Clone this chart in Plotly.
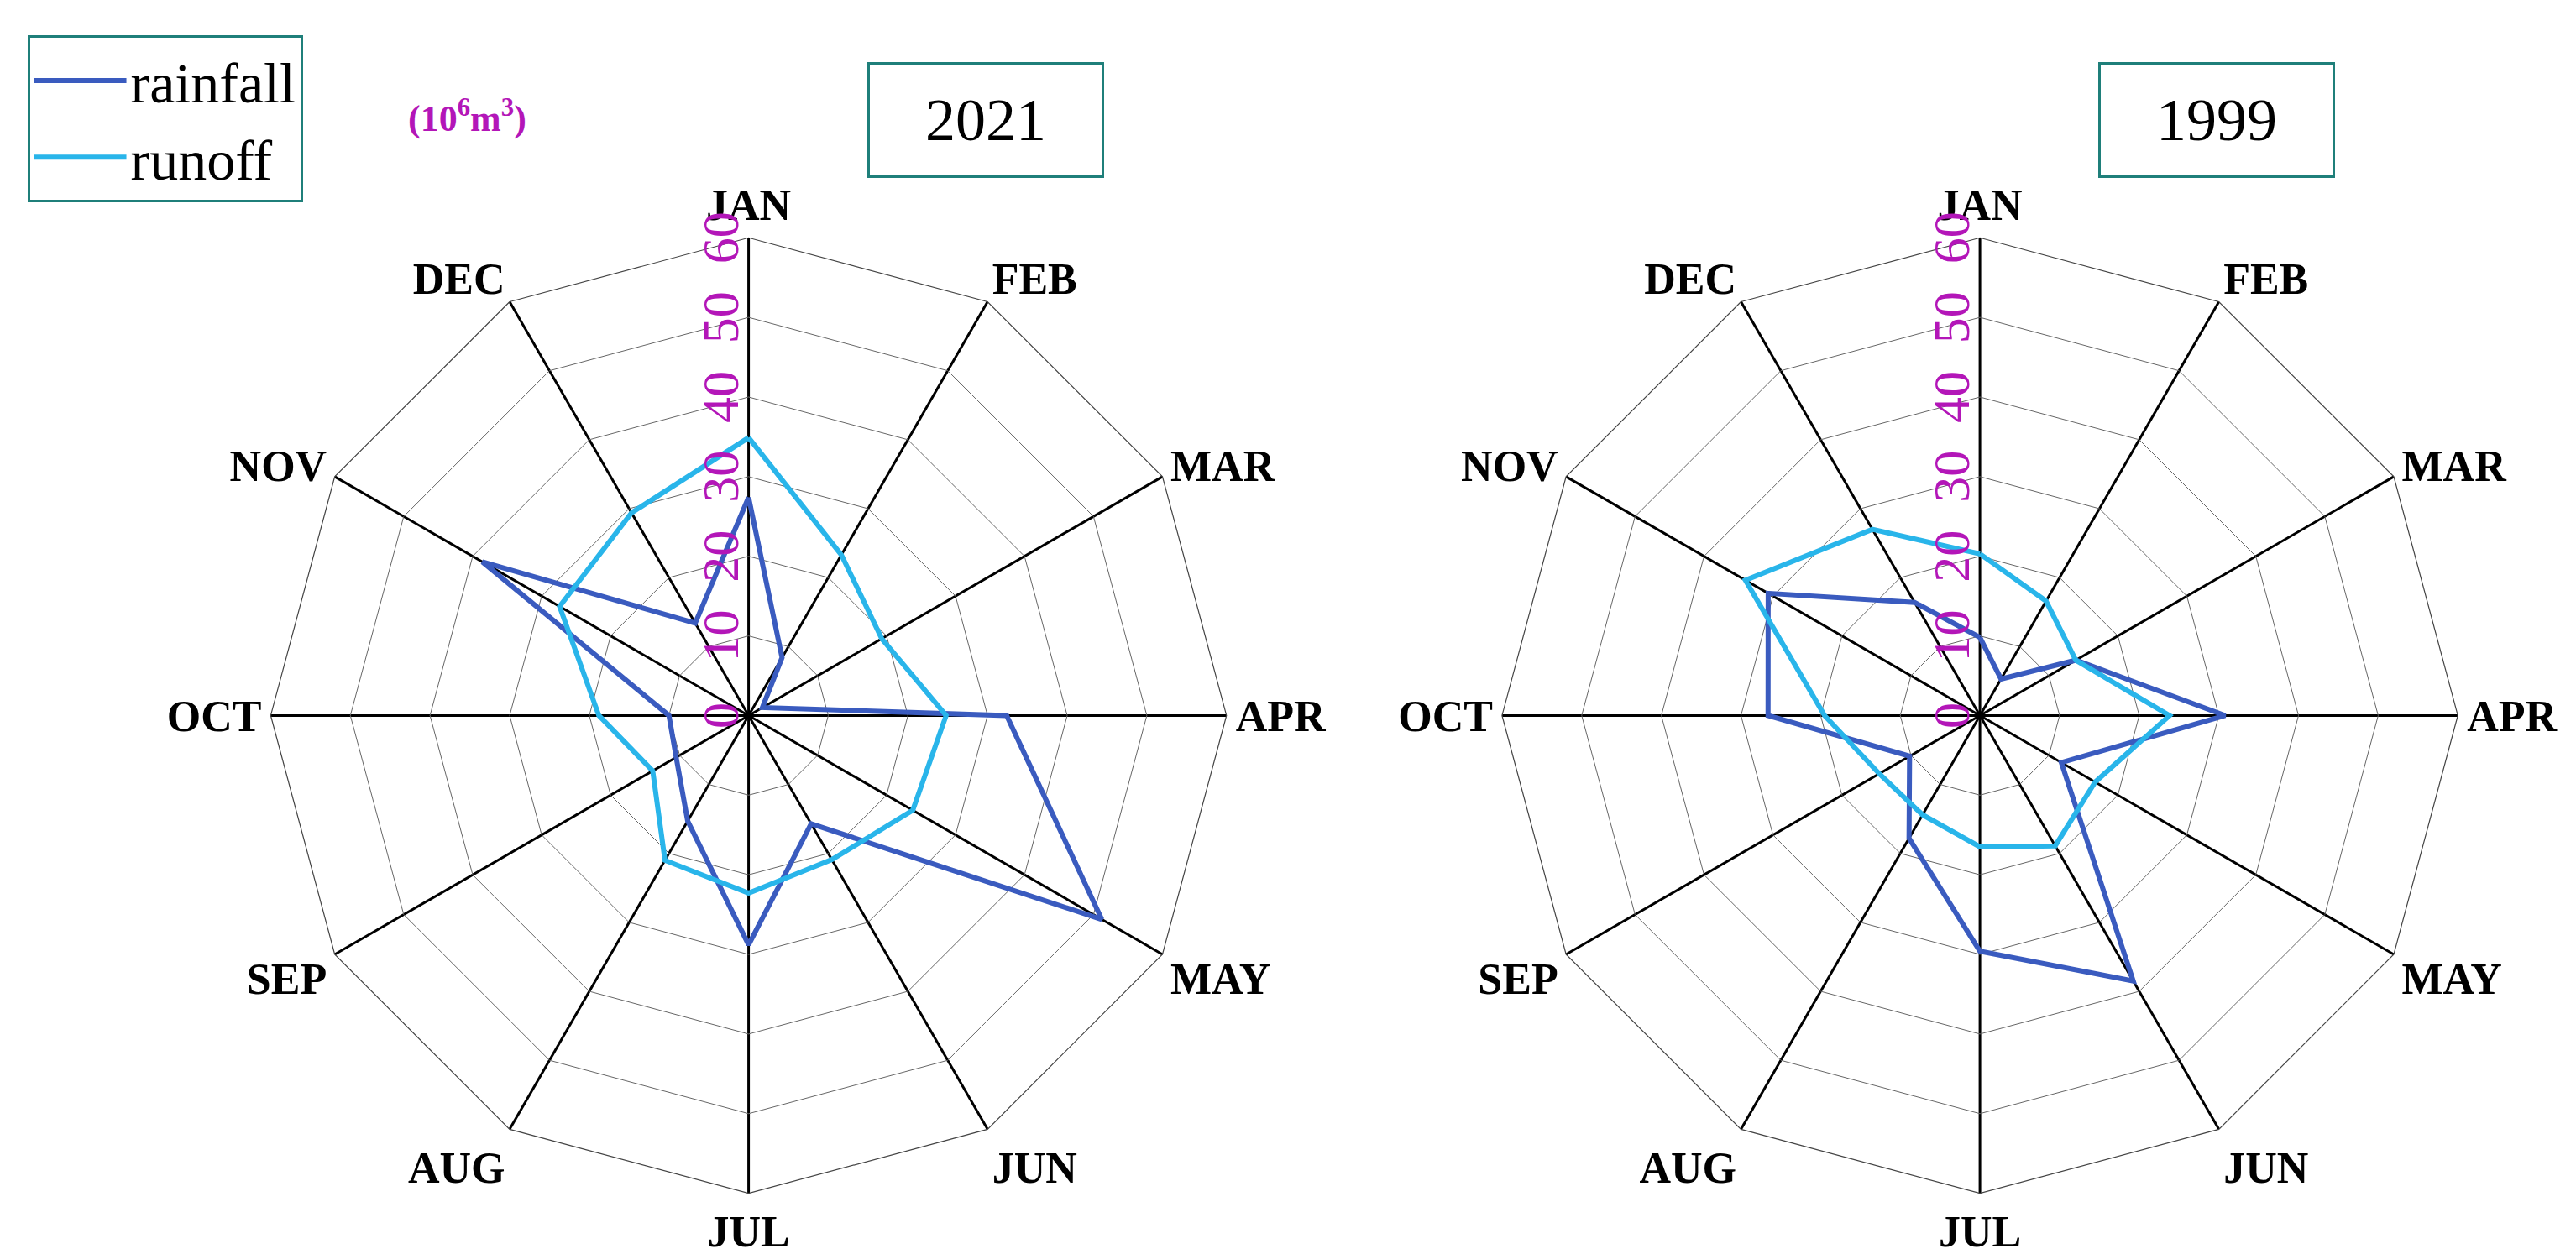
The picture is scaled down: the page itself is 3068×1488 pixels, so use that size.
import plotly.graph_objects as go

months = ["JAN","FEB","MAR","APR","MAY","JUN","JUL","AUG","SEP","OCT","NOV","DEC"]
rain_2021 = [27.4, 8.4, 2, 32.4, 51.2, 15.7, 28.8, 15.3, 10.5, 10, 38.6, 13.4]
runoff_2021 = [34.9, 23.3, 19.3, 24.8, 23.8, 20.9, 22.3, 21, 13.9, 18.8, 27.4, 29.4]
rain_1999 = [9.8, 5.3, 13.9, 30.8, 11.8, 38.5, 29.6, 17.8, 10.2, 26.6, 30.7, 16.4]
runoff_1999 = [20.3, 16.6, 13.9, 23.8, 16.7, 18.9, 16.5, 14.4, 14.6, 19.5, 34, 27]
radial_ticks = [0, 10, 20, 30, 40, 50, 60]

RAIN = "#3a5bbf"
RUN = "#29b5ea"
TEAL = "#1f7f7a"

fig = go.Figure()
def close(v): return v + v[:1]
th = close(months)
for sub, rain, run, show in [("polar", rain_2021, runoff_2021, True), ("polar2", rain_1999, runoff_1999, False)]:
    fig.add_trace(go.Scatterpolar(r=close(rain), theta=th, mode="lines", line=dict(color=RAIN, width=6),
                                  name="rainfall", subplot=sub, showlegend=show))
    fig.add_trace(go.Scatterpolar(r=close(run), theta=th, mode="lines", line=dict(color=RUN, width=6),
                                  name="runoff", subplot=sub, showlegend=show))

def polar(dom_x):
    return dict(
        domain=dict(x=dom_x, y=[0.05, 0.815]),
        gridshape="linear", bgcolor="white",
        angularaxis=dict(direction="clockwise", rotation=90, categoryarray=months, categoryorder="array",
                         showgrid=True, gridcolor="black", gridwidth=2.5, linecolor="#444", linewidth=1.2,
                         ticks="", tickfont=dict(family="Liberation Serif", size=52, color="black", weight="bold")),
        radialaxis=dict(range=[0, 60], tickvals=radial_ticks, angle=90, side="counterclockwise", tickangle=0,
                        showline=False, gridcolor="#666", gridwidth=1.2, ticks="",
                        tickfont=dict(family="Liberation Serif", size=62, color="#b316b8")),
    )

fig.update_layout(
    width=3068, height=1488, paper_bgcolor="white", margin=dict(l=0, r=0, t=0, b=0),
    polar=polar([0.10, 0.476]), polar2=polar([0.578, 0.954]),
    legend=dict(x=0.008, y=0.977, xanchor="left", yanchor="top", bordercolor=TEAL, borderwidth=3,
                font=dict(family="Liberation Serif", size=68, color="black"), itemwidth=110,
                bgcolor="white", entrywidth=560),
    annotations=[
        dict(text="(10<sup>6</sup>m<sup>3</sup>)", x=548/3068, y=1-130/1488, xref="paper", yref="paper",
             xanchor="center", yanchor="middle", showarrow=False,
             font=dict(family="Liberation Serif", size=44, color="#b316b8", weight="bold")),
        dict(text="2021", x=1166/3068, y=1-135/1488, xref="paper", yref="paper", showarrow=False,
             xanchor="center", yanchor="middle",
             font=dict(family="Liberation Serif", size=72, color="black"), bordercolor=TEAL, borderwidth=3,
             borderpad=18, width=240, height=96),
        dict(text="1999", x=(1534+1098)/3068, y=1-135/1488, xref="paper", yref="paper", showarrow=False,
             xanchor="center", yanchor="middle",
             font=dict(family="Liberation Serif", size=72, color="black"), bordercolor=TEAL, borderwidth=3,
             borderpad=18, width=240, height=96),
    ],
)
fig.write_html("out.html")
